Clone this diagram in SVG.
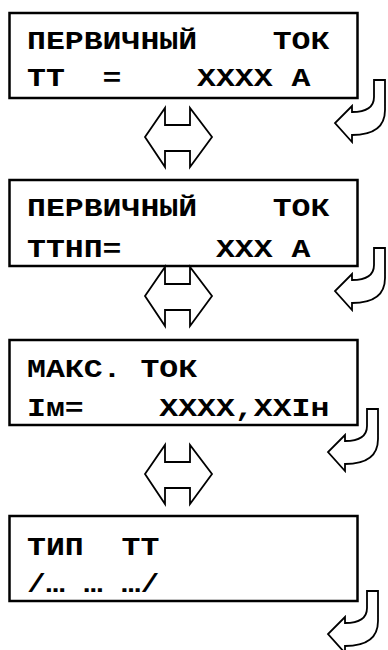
<svg xmlns="http://www.w3.org/2000/svg" width="388" height="650" viewBox="0 0 388 650">
<style>
.box{fill:#fff;stroke:#000;stroke-width:2.5}
.t{font-family:"Liberation Mono","DejaVu Sans Mono",monospace;font-weight:bold;font-size:31.5px;fill:#000;white-space:pre}
.arr{fill:#fff;stroke:#000;stroke-width:1.8;stroke-linejoin:miter}
</style>
<defs>
<path id="dbl" d="M145,137 L165,108 L165,125 L190,125 L190,108 L212,137 L190,167 L190,151 L165,151 L165,167 Z"/>
<path id="turn" d="M374,80 L385,80 L385,110 C385,128 372,135 352,135 L352,142 L335,123 L352,106 L352,112 C366,112 374,108 374,97 Z"/>
</defs>
<rect width="388" height="650" fill="#fff"/>
<g id="node1">
<rect class="box" x="9.5" y="13" width="348" height="85"/>
<text class="t" transform="translate(27,49) scale(1,0.8)">ПЕРВИЧНЫЙ    ТОК</text>
<text class="t" transform="translate(27,86) scale(1,0.8)">ТТ  =    ХХХХ А</text>
</g>
<g id="node2">
<rect class="box" x="9.5" y="180" width="348" height="86"/>
<text class="t" transform="translate(27,216) scale(1,0.8)">ПЕРВИЧНЫЙ    ТОК</text>
<text class="t" transform="translate(27,257) scale(1,0.8)">ТТНП=     ХХХ А</text>
</g>
<g id="node3">
<rect class="box" x="9.5" y="340" width="348" height="85"/>
<text class="t" transform="translate(27,377) scale(1,0.8)">МАКС. ТОК</text>
<text class="t" transform="translate(27,416) scale(1,0.8)">Iм=    ХХХХ,ХХIн</text>
</g>
<g id="node4">
<rect class="box" x="9.5" y="516" width="348" height="85"/>
<text class="t" transform="translate(27,555) scale(1,0.8)">ТИП  ТТ</text>
<text class="t" transform="translate(27,592) scale(1,0.8)">/… … …/</text>
</g>
<g id="connectors">
<use href="#dbl" class="arr"/>
<use href="#dbl" class="arr" transform="translate(0,159)"/>
<use href="#dbl" class="arr" transform="translate(0,337)"/>
<use href="#turn" class="arr"/>
<use href="#turn" class="arr" transform="translate(0,168)"/>
<use href="#turn" class="arr" transform="translate(-7,329)"/>
<use href="#turn" class="arr" transform="translate(-7,511)"/>
</g>
</svg>
